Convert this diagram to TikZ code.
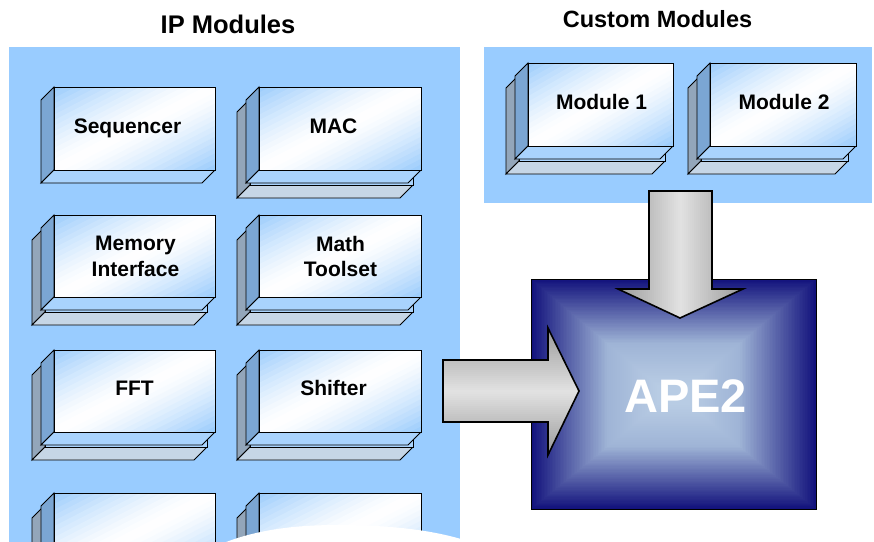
\documentclass[tikz,border=0pt]{standalone}
\usepackage{fontspec}
\setmainfont{Liberation Sans}
\definecolor{panel}{HTML}{99CCFF}
\definecolor{sideA}{HTML}{7BA6D3}
\definecolor{baseA}{HTML}{A9D3FD}
\definecolor{sideB}{HTML}{93A6BA}
\definecolor{baseB}{HTML}{C6D6E6}
\definecolor{faceblue}{HTML}{99CBFC}
\definecolor{navy}{HTML}{12127C}
\definecolor{apemid}{HTML}{9FB4D6}
\definecolor{apelight}{HTML}{B8CCE4}
\definecolor{arrowdark}{HTML}{9A9A9A}
\definecolor{arrowlight}{HTML}{E2E2E2}

\tikzset{
  edge/.style={draw=black, line width=0.9pt},
  title/.style={font=\fontsize{25.5}{30}\selectfont\bfseries, inner sep=0pt, anchor=base},
  modlabel/.style={font=\fontsize{21}{25.5}\selectfont\bfseries, inner sep=0pt, align=center},
  blockarrow/.style={draw=black, line width=1.6pt, line join=miter},
}

% front face with a diagonal blue-white-blue gradient built from strips
\newcommand\gradface[4]{%
  \begin{scope}
    \clip ({#1},{-(#2)}) rectangle ({#3},{-(#4)});
    \begin{scope}[shift={({#1},{-(#2)})}, xscale={(#3)-(#1)}, yscale={(#4)-(#2)}]
      \foreach \k in {0,...,29} {
        \pgfmathsetmacro\ca{\k/15}
        \pgfmathsetmacro\cb{(\k+1)/15+0.03}
        \pgfmathsetmacro\pc{100*(abs((\k+0.5)/30-0.5)*2)^1.4}
        \fill[faceblue!\pc!white] ({\ca-2},-2) -- ({\ca+2},2) -- ({\cb+2},2) -- ({\cb-2},-2) -- cycle;
      }
    \end{scope}
  \end{scope}
  \draw[edge] ({#1},{-(#2)}) rectangle ({#3},{-(#4)});
}
% side and base faces of a slab: front face (x0,y0)-(x1,y1) measured downwards, depth 13
\newcommand\slabsides[6]{%
  \draw[edge, fill=#5] ({#1},{-(#2)}) -- ({#1-13},{-(#2+13)}) -- ({#1-13},{-(#4+13)}) -- ({#1},{-(#4)}) -- cycle;
  \draw[edge, fill=#6] ({#1},{-(#4)}) -- ({#3},{-(#4)}) -- ({#3-13},{-(#4+13)}) -- ({#1-13},{-(#4+13)}) -- cycle;
}
% single module block
\newcommand\singlemod[4]{\slabsides{#1}{#2}{#3}{#4}{sideA}{baseA}\gradface{#1}{#2}{#3}{#4}}
% module block with a second slab behind it
\newcommand\doublemod[4]{%
  \slabsides{#1-9}{#2+12}{#3-8}{#4+15}{sideB}{baseB}%
  \draw[edge, fill=baseA] ({#1-9},{-(#2+12)}) rectangle ({#3-8},{-(#4+15)});
  \singlemod{#1}{#2}{#3}{#4}}

\begin{document}
\begin{tikzpicture}[x=1pt, y=1pt]
  \useasboundingbox (0,0) rectangle (874,-541);
  \clip (0,0) rectangle (874,-541);

  % background panels
  \fill[panel] (9,-47) rectangle (460,-560);
  \fill[panel] (484,-47) rectangle (872,-203);

  % IP module blocks
  \singlemod{54}{87}{215}{170}
  \doublemod{259}{87}{421}{170}
  \doublemod{54}{215}{215}{297}
  \doublemod{259}{215}{421}{297}
  \doublemod{54}{350}{215}{432}
  \doublemod{259}{350}{421}{432}
  \doublemod{54}{493}{215}{576}
  \doublemod{259}{493}{421}{576}

  % custom module blocks
  \doublemod{528}{63}{673}{146}
  \doublemod{710}{63}{856}{146}

  % wavy lower edge of the IP panel
  \fill[white] (212,-548) .. controls (248,-531) and (290,-525) .. (337,-525)
               .. controls (390,-525) and (430,-530) .. (461,-539) -- (461,-560) -- (212,-560) -- cycle;

  % titles
  \node[title] (iptitle) at (228,-33) {IP Modules};
  \node[title, font=\fontsize{23.5}{28}\selectfont\bfseries] (customtitle) at (657.5,-27) {Custom Modules};

  % module labels
  \node[modlabel, anchor=base] (seq) at (127.5,-133) {Sequencer};
  \node[modlabel, anchor=base] (mac) at (333.5,-133) {MAC};
  \node[modlabel] (mem) at (135.5,-256.5) {Memory\\Interface};
  \node[modlabel] (math) at (340.5,-256.5) {Math\\Toolset};
  \node[modlabel, anchor=base] (fft) at (134.5,-395) {FFT};
  \node[modlabel, anchor=base] (shift) at (333.5,-395) {Shifter};
  \node[modlabel, anchor=base] (mod1) at (601.5,-109) {Module 1};
  \node[modlabel, anchor=base] (mod2) at (784,-109) {Module 2};

  % APE2 block with a pyramid gradient
  \foreach \i in {0,...,48} {
    \pgfmathsetmacro\t{\i/48}
    \pgfmathsetmacro\pc{100*\t}
    \fill[apemid!\pc!navy] ({531+76*\t},{-279-64*\t}) rectangle ({816-76*\t},{-509+62*\t});
  }
  \foreach \i in {1,...,24} {
    \pgfmathsetmacro\t{\i/24}
    \pgfmathsetmacro\pc{100*\t}
    \fill[apelight!\pc!apemid] ({607+50*\t},{-343-42*\t}) rectangle ({740-50*\t},{-447+42*\t});
  }
  \draw[edge] (531,-279) rectangle (816,-509);
  \node[font=\fontsize{47}{56}\selectfont\bfseries, text=white, inner sep=0pt, anchor=base] (ape) at (685.5,-412) {APE2};

  % block arrow from the IP modules, shaded across its height
  \begin{scope}
    \clip (443,-360) -- (548,-360) -- (548,-328) -- (579,-391) -- (548,-455) -- (548,-422) -- (443,-422) -- cycle;
    \foreach \k in {0,...,63} {
      \pgfmathsetmacro\pc{100*abs(328+2*\k+1-391.5)/63.5}
      \fill[arrowdark!\pc!arrowlight] (440,{-(328+2*\k)}) rectangle (582,{-(330.6+2*\k)});
    }
  \end{scope}
  \draw[blockarrow]
    (443,-360) -- (548,-360) -- (548,-328) -- (579,-391) -- (548,-455) -- (548,-422) -- (443,-422) -- cycle;

  % block arrow from the custom modules, shaded across its width
  \begin{scope}
    \clip (649,-191) -- (712,-191) -- (712,-289) -- (743,-289) -- (680,-318) -- (618,-289) -- (649,-289) -- cycle;
    \foreach \k in {0,...,63} {
      \pgfmathsetmacro\pc{100*abs(618+2*\k+1-680.5)/62.5}
      \fill[arrowdark!\pc!arrowlight] ({618+2*\k},-188) rectangle ({620.6+2*\k},-320);
    }
  \end{scope}
  \draw[blockarrow]
    (649,-191) -- (712,-191) -- (712,-289) -- (743,-289) -- (680,-318) -- (618,-289) -- (649,-289) -- cycle;
\end{tikzpicture}
\end{document}
